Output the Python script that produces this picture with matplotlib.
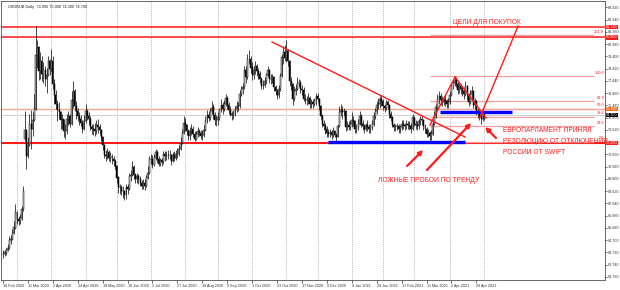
import matplotlib
matplotlib.use("Agg")
import matplotlib.pyplot as plt
import matplotlib.transforms as mtransforms
import numpy as np

# USDRUB daily bars, 18 Feb 2020 .. 3 May 2021 (x = bar index)
first_open = 63.5
gap_opens = {14: 72.8}

close = [
    # Feb 2020
    63.6, 63.7, 63.9, 64.1, 64.7, 64.8, 65.3, 65.7, 66.9,
    # Mar
    66.4, 66.2, 66.5, 67.2, 68.6, 73.5, 71.4, 72.3, 74.0, 73.6, 74.3, 75.2, 79.5, 80.1, 78.2, 79.0,
    78.0, 78.3, 77.6, 77.9, 79.0, 78.4,
    # Apr
    79.0, 77.2, 76.3, 75.6, 75.1, 74.9, 74.3, 74.4, 73.4, 73.4, 74.4, 74.6, 74.0, 75.9, 76.6, 75.4,
    75.0, 74.6, 74.4, 74.1, 73.6, 74.2,
    # May
    75.0, 74.6, 74.4, 73.7, 73.6, 73.6, 73.4, 73.9, 73.7, 73.5, 72.9, 72.3, 71.5, 71.4, 71.7, 71.3,
    71.4, 71.2, 71.0, 70.6,
    # Jun
    69.7, 68.9, 68.9, 68.6, 68.6, 68.3, 68.9, 68.8, 69.8, 69.9, 70.5, 69.9, 69.6, 69.8, 69.6, 69.3,
    69.0, 69.3, 69.0, 69.7, 70.1, 71.2,
    # Jul
    71.2, 70.7, 71.3, 71.7, 71.2, 70.8, 71.1, 70.9, 71.6, 71.4, 71.5, 71.5, 71.5, 71.0, 71.5, 71.3,
    71.6, 71.6, 72.0, 72.5, 73.3, 74.1,
    # Aug
    73.9, 73.4, 73.0, 73.4, 73.6, 73.2, 72.8, 73.2, 73.4, 73.3, 73.0, 73.1, 73.5, 74.2, 74.7, 74.5,
    75.0, 75.3, 74.7, 74.3, 74.3,
    # Sep
    74.5, 75.1, 75.5, 75.2, 75.6, 76.1, 75.5, 75.1, 74.8, 74.7, 74.8, 75.2, 75.4, 75.4, 76.4, 76.8,
    76.9, 78.3, 77.7, 79.2, 79.2, 78.5,
    # Oct
    77.9, 78.3, 78.6, 78.2, 78.0, 77.6, 77.0, 77.1, 77.4, 77.9, 78.3, 77.6, 77.6, 77.7, 76.9, 76.6,
    76.3, 76.8, 77.8, 79.3, 79.7, 79.3,
    # Nov
    79.8, 79.0, 77.4, 77.2, 76.0, 76.6, 76.8, 77.3, 77.3, 76.8, 76.7, 76.0, 75.9, 75.9, 76.1, 75.6,
    75.7, 75.6, 75.8, 76.2,
    # Dec
    76.0, 75.4, 74.6, 74.0, 73.8, 73.6, 73.3, 73.2, 73.3, 73.1, 73.4, 73.1, 72.9, 73.8, 74.9, 75.1,
    74.9, 75.0, 73.7, 73.9, 73.7, 74.0,
    # Jan 2021
    74.3, 74.2, 73.6, 73.7, 74.0, 74.6, 74.0, 73.8, 73.6, 73.9, 73.7, 73.6, 73.7, 74.0, 74.6, 75.0,
    75.5, 75.6, 76.0, 75.8,
    # Feb
    75.4, 75.3, 75.7, 75.5, 74.8, 74.5, 73.9, 73.7, 73.8, 73.8, 73.6, 73.7, 74.0, 73.9, 73.8, 74.0,
    73.9, 73.8, 73.6, 74.5,
    # Mar
    74.0, 73.9, 73.8, 74.2, 74.4, 74.3, 73.8, 73.6, 73.2, 73.3, 73.0, 73.2, 74.0, 74.6, 75.3, 76.0,
    76.2, 75.9, 75.7, 75.9, 75.8, 75.6, 75.7,
    # Apr
    76.3, 77.0, 77.3, 77.5, 77.2, 76.7, 77.0, 76.8, 76.6, 76.4, 77.0, 76.3, 75.7, 76.4, 76.6, 75.5,
    75.8, 75.0, 74.9, 74.6, 74.4, 74.9,
    # May
    74.7,
]
high = [
    63.9, 63.9, 64.1, 64.4, 65.0, 65.1, 65.6, 66.2, 67.6,
    67.0, 66.6, 66.8, 67.4, 69.0, 75.0, 73.6, 72.9, 74.8, 75.1, 74.9, 76.4, 81.8, 80.7, 80.2, 79.7,
    79.4, 78.9, 78.6, 78.5, 79.4, 79.2,
    80.0, 79.4, 77.6, 76.7, 75.9, 75.7, 75.0, 74.8, 74.4, 74.0, 74.8, 75.0, 74.8, 76.6, 77.4, 76.8,
    75.8, 75.3, 74.9, 74.7, 74.3, 74.7,
    75.6, 75.2, 74.9, 74.6, 74.0, 74.0, 74.1, 74.3, 74.4, 74.0, 73.6, 73.0, 72.4, 71.9, 72.1, 71.9,
    71.7, 71.6, 71.4, 71.2,
    70.7, 69.8, 69.2, 69.1, 69.0, 68.7, 69.2, 69.2, 70.1, 70.3, 71.0, 70.7, 70.1, 70.1, 70.0, 69.8,
    69.5, 69.6, 69.6, 69.9, 70.6, 71.4,
    71.6, 71.5, 71.6, 72.0, 71.9, 71.4, 71.3, 71.3, 71.8, 71.8, 71.8, 71.9, 71.9, 71.6, 71.7, 71.8,
    71.9, 72.1, 72.3, 72.9, 73.6, 74.6,
    74.5, 74.0, 73.6, 73.7, 74.0, 73.8, 73.4, 73.4, 73.7, 73.6, 73.5, 73.5, 73.9, 74.6, 75.1, 75.0,
    75.3, 75.8, 75.6, 74.9, 74.7,
    74.9, 75.3, 76.0, 75.7, 75.9, 76.4, 76.2, 75.7, 75.4, 75.0, 75.1, 75.4, 75.8, 75.7, 76.7, 77.0,
    77.3, 78.6, 78.6, 79.6, 79.9, 79.4,
    78.9, 78.6, 79.0, 78.8, 78.5, 78.2, 77.7, 77.5, 77.7, 78.1, 78.6, 78.4, 78.0, 78.0, 77.8, 77.1,
    76.8, 77.1, 78.1, 79.6, 80.2, 80.3,
    80.7, 80.0, 79.1, 77.7, 77.3, 77.0, 77.2, 77.7, 77.6, 77.5, 77.1, 76.9, 76.4, 76.2, 76.5, 76.2,
    76.0, 76.0, 76.1, 76.5,
    76.5, 76.1, 75.5, 74.8, 74.3, 74.1, 73.8, 73.6, 73.6, 73.5, 73.7, 73.5, 73.3, 74.0, 75.4, 75.6,
    75.4, 75.3, 75.1, 74.2, 74.2, 74.3,
    74.9, 74.6, 74.3, 74.0, 74.4, 75.0, 74.8, 74.3, 74.0, 74.1, 74.3, 74.0, 74.0, 74.3, 74.9, 75.3,
    75.8, 76.1, 76.2, 76.3,
    76.0, 75.6, 75.9, 75.9, 75.6, 75.0, 74.6, 74.1, 74.0, 74.1, 74.0, 73.9, 74.3, 74.3, 74.1, 74.3,
    74.2, 74.2, 74.1, 74.8,
    74.6, 74.3, 74.2, 74.4, 74.6, 74.6, 74.4, 74.0, 73.7, 73.6, 73.4, 73.5, 74.3, 75.0, 75.6, 76.4,
    76.6, 76.5, 76.2, 76.2, 76.3, 76.0, 76.1,
    76.6, 77.3, 77.6, 77.8, 77.7, 77.4, 77.3, 77.2, 77.0, 76.9, 77.4, 77.1, 76.5, 76.7, 77.0, 76.7,
    76.1, 75.9, 75.3, 75.1, 74.9, 75.1,
    75.0,
]
low = [
    63.3, 63.4, 63.5, 63.8, 64.0, 64.4, 64.7, 65.2, 65.6,
    66.0, 65.9, 66.0, 66.3, 67.0, 72.6, 70.4, 71.3, 72.2, 72.0, 73.0, 74.2, 75.1, 78.5, 77.5, 77.6,
    77.4, 77.3, 77.0, 76.5, 77.8, 77.9,
    78.2, 76.8, 75.6, 75.2, 74.2, 74.4, 73.6, 73.6, 72.9, 72.8, 73.2, 73.9, 73.7, 73.9, 75.3, 75.0,
    74.4, 74.2, 73.9, 73.8, 73.3, 73.5,
    74.1, 74.3, 73.9, 73.5, 73.2, 73.1, 73.0, 73.2, 73.3, 73.1, 72.6, 71.9, 71.3, 71.0, 71.2, 71.0,
    70.9, 70.8, 70.6, 70.4,
    69.3, 68.5, 68.4, 68.3, 68.1, 67.9, 68.0, 68.4, 68.7, 69.4, 69.8, 69.6, 69.3, 69.3, 69.2, 69.0,
    68.8, 68.8, 68.7, 68.9, 69.6, 70.0,
    70.8, 70.5, 70.6, 71.1, 70.9, 70.6, 70.6, 70.6, 70.8, 71.0, 71.1, 71.2, 71.2, 70.7, 70.9, 71.0,
    71.1, 71.3, 71.4, 71.9, 72.4, 73.2,
    73.4, 73.1, 72.7, 72.7, 73.1, 72.9, 72.6, 72.7, 72.9, 73.0, 72.8, 72.7, 72.9, 73.4, 74.1, 74.2,
    74.3, 74.8, 74.4, 73.9, 73.8,
    73.9, 74.3, 74.9, 74.8, 75.0, 75.4, 75.2, 74.8, 74.6, 74.3, 74.4, 74.6, 74.9, 75.0, 75.3, 76.2,
    76.4, 76.8, 77.3, 77.6, 78.8, 78.1,
    77.5, 77.6, 78.0, 77.8, 77.6, 77.3, 76.8, 76.8, 76.9, 77.2, 77.7, 77.3, 77.2, 77.3, 76.6, 76.3,
    76.0, 76.1, 76.6, 77.7, 78.8, 79.0,
    78.9, 78.6, 77.0, 76.7, 75.5, 75.8, 76.3, 76.7, 76.9, 76.5, 76.3, 75.8, 75.6, 75.5, 75.6, 75.3,
    75.3, 75.3, 75.4, 75.5,
    75.7, 75.1, 74.4, 73.7, 73.5, 73.2, 72.9, 72.9, 72.9, 72.8, 72.9, 72.9, 72.6, 72.9, 73.7, 74.6,
    74.4, 74.6, 73.4, 73.5, 73.5, 73.5,
    73.7, 73.8, 73.3, 73.3, 73.5, 73.9, 73.7, 73.5, 73.3, 73.4, 73.4, 73.3, 73.3, 73.5, 73.8, 74.4,
    74.8, 75.2, 75.3, 75.4,
    75.1, 74.9, 75.1, 75.2, 74.5, 74.2, 73.7, 73.4, 73.4, 73.5, 73.3, 73.3, 73.5, 73.6, 73.5, 73.6,
    73.6, 73.5, 73.3, 73.5,
    73.8, 73.6, 73.5, 73.6, 73.9, 73.9, 73.5, 73.3, 72.9, 72.9, 72.6, 72.7, 73.1, 73.9, 74.5, 75.2,
    75.6, 75.5, 75.4, 75.5, 75.4, 75.3, 75.3,
    75.6, 76.2, 76.8, 77.0, 76.9, 76.4, 76.5, 76.4, 76.2, 76.0, 76.2, 75.9, 75.4, 75.6, 76.0, 75.3,
    75.2, 74.7, 74.5, 74.3, 74.0, 74.2,
    74.3,
]

date_labels = ["18 Feb 2020", "11 Mar 2020", "2 Apr 2020", "24 Apr 2020", "19 May 2020",
               "10 Jun 2020", "2 Jul 2020", "27 Jul 2020", "18 Aug 2020", "9 Sep 2020",
               "1 Oct 2020", "23 Oct 2020", "17 Nov 2020", "9 Dec 2020", "4 Jan 2021",
               "26 Jan 2021", "17 Feb 2021", "11 Mar 2021", "2 Apr 2021", "26 Apr 2021"]
label_every = 16
month_starts = [9, 31, 53, 73, 95, 117, 138, 160, 182, 202, 224, 244, 264, 287, 309]

# analyst drawings (bar index, price)
red_levels = [81.74, 80.90]
support_level = 72.46
salmon_level = 75.18
fib_low, fib_high = 72.54, 77.82
fib_levels = [0.0, 23.6, 38.2, 50.0, 61.8, 100.0, 161.8]
fib_span = (274.2, 379.5)
blue_segments = [((208.7, 72.54), (296.7, 72.54)), ((280.7, 74.94), (326.9, 74.94))]
red_segments = [((172.8, 80.54), (296.7, 72.94)),
                ((274.2, 73.90), (290.3, 77.74)),
                ((290.3, 77.74), (310.2, 74.46)),
                ((306.4, 74.54), (330.8, 81.82))]
arrows = [((259.5, 70.62), (269.8, 71.90)),
          ((272.3, 70.30), (300.6, 74.06)),
          ((316.6, 72.86), (309.6, 73.74))]

RED = "#ff1a1a"

o = np.array([first_open] + close[:-1], dtype=float)
for i, v in gap_opens.items():
    o[i] = v
c = np.array(close)
h = np.array(high)
l = np.array(low)
x = np.arange(len(c))

fig = plt.figure(figsize=(6.2, 2.9), dpi=100)
ax = fig.add_axes([1 / 620, 10 / 290, 604 / 620, 279 / 290])
ax.set_xlim(-1.28, 386.6)
ax.set_ylim(61.5, 83.82)

for m in month_starts:
    ax.axvline(m, color="#9a9a9a", lw=0.6, ls=(0, (1, 1.5)), zorder=0)

# candles
up = c >= o
ax.vlines(x, l, h, color="black", lw=0.5, zorder=3)
ax.bar(x[up], (c - o)[up], bottom=o[up], width=0.62, color="white",
       edgecolor="black", linewidth=0.35, zorder=4)
ax.bar(x[~up], (o - c)[~up], bottom=c[~up], width=0.62, color="black",
       edgecolor="black", linewidth=0.35, zorder=4)

# horizontal levels
for lv in red_levels:
    ax.axhline(lv, color=RED, lw=1.1, zorder=2)
ax.axhline(salmon_level, color="#f7a890", lw=1.0, zorder=2)
ax.axhline(c[-1], color="#c8c8c8", lw=0.6, zorder=1)
ax.axhline(support_level, color=RED, lw=1.5, zorder=2)

for lvl in fib_levels:
    p = fib_low + (fib_high - fib_low) * lvl / 100
    ax.hlines(p, fib_span[0], fib_span[1], color="#f4a0a0", lw=0.9, zorder=2)
    ax.text(386, p + 0.12, "%.1f" % lvl, color=RED, fontsize=2.8,
            ha="right", va="bottom", family="Liberation Sans")

for (x0, y0), (x1, y1) in blue_segments:
    ax.plot([x0, x1], [y0, y1], color="#0000ff", lw=2.4, solid_capstyle="butt", zorder=5)
for (x0, y0), (x1, y1) in red_segments:
    ax.plot([x0, x1], [y0, y1], color=RED, lw=1.0, zorder=5)
for tail, head in arrows:
    ax.annotate("", xy=head, xytext=tail,
                arrowprops=dict(arrowstyle="-|>", color=RED, lw=1.6, mutation_scale=6,
                                shrinkA=0, shrinkB=0), zorder=6)

font = "Liberation Sans"
ax.text(289, 82.06, "ЦЕЛИ ДЛЯ ПОКУПОК", color=RED, fontsize=4.8, va="center", family=font)
ax.text(273.6, 69.42, "ЛОЖНЫЕ ПРОБОИ ПО ТРЕНДУ", color=RED, fontsize=4.8,
        ha="center", va="center", family=font)
for k, line in enumerate(["ЕВРОПАРЛАМЕНТ ПРИНЯЛ", "РЕЗОЛЮЦИЮ ОТ ОТКЛЮЧЕНИЯ", "РОССИИ ОТ SWIFT"]):
    ax.text(321.1, 73.5 - 0.92 * k, line, color=RED, fontsize=4.8, va="center",
            family=font, clip_on=False, zorder=7)

ax.text(0.012, 0.985, "USDRUB,Daily  %.3f %.3f %.3f %.3f" % (o[-1], h[-1], l[-1], c[-1]),
        transform=ax.transAxes, fontsize=2.8, color="#202020", va="top", family=font)

# axes, ticks
ax.yaxis.tick_right()
ax.set_yticks(np.arange(61.76, 83.4, 0.98))
ax.yaxis.set_major_formatter(matplotlib.ticker.FormatStrFormatter("%.3f"))
ax.tick_params(axis="y", length=1.5, width=0.5, pad=0.6, labelsize=2.7, colors="#303030")
ax.set_xticks(np.arange(len(date_labels)) * label_every)
ax.set_xticklabels(date_labels, ha="left")
ax.tick_params(axis="x", length=2, width=0.5, pad=1, labelsize=2.7, colors="#303030")
for tl in ax.get_xticklabels() + ax.get_yticklabels():
    tl.set_family(font)
for s in ax.spines.values():
    s.set_color("#505050")
    s.set_linewidth(0.6)

# price boxes on the right scale
tr = mtransforms.blended_transform_factory(ax.transAxes, ax.transData)
boxes = [(red_levels[0], RED), (red_levels[1], RED), (salmon_level, "#ff6a1a"),
         (c[-1], "black"), (support_level, RED)]
for p, col in boxes:
    ax.text(1.002, p, "%.3f" % p, transform=tr, fontsize=2.7, color="white", va="center",
            ha="left", family=font, clip_on=False, zorder=8,
            bbox=dict(boxstyle="square,pad=0.12", fc=col, ec="none"))

fig.savefig("out.png", dpi=100)
